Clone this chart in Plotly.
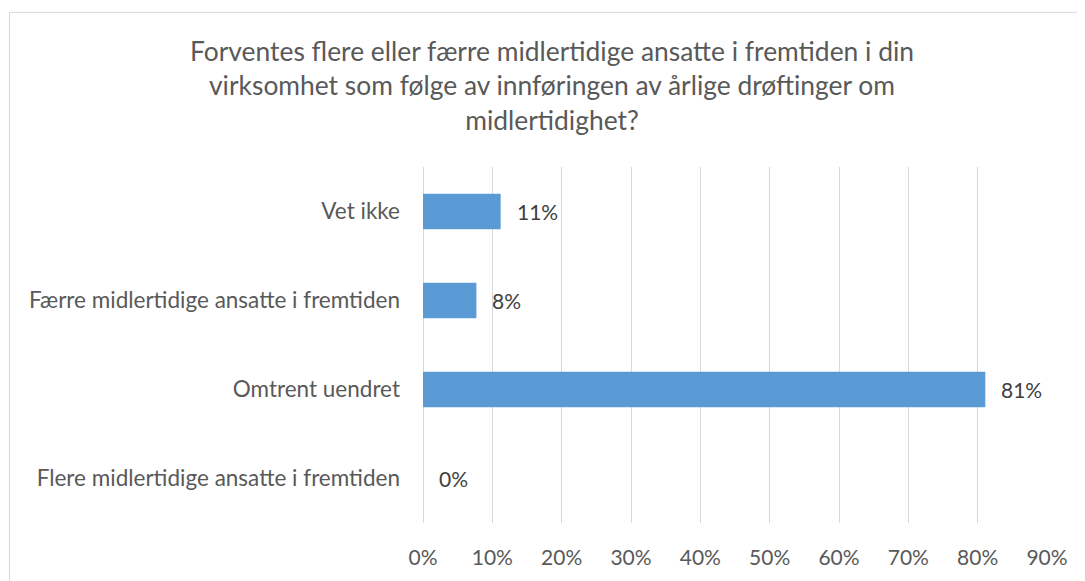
import plotly.graph_objects as go

categories = [
    "Flere midlertidige ansatte i fremtiden",
    "Omtrent uendret",
    "Færre midlertidige ansatte i fremtiden",
    "Vet ikke",
]
values = [0.0, 81.1, 7.7, 11.2]
labels = ["0%", "81%", "8%", "11%"]
tick_vals = [0, 10, 20, 30, 40, 50, 60, 70, 80, 90]
tick_text = ["0%", "10%", "20%", "30%", "40%", "50%", "60%", "70%", "80%", "90%"]
title_text = ("Forventes flere eller færre midlertidige ansatte i fremtiden i din<br>"
              "virksomhet som følge av innføringen av årlige drøftinger om<br>"
              "midlertidighet?")

FONT = "Lato"
# page body has an 8px margin, so the figure is offset by 8px
W, H = 1077, 573
L, R, T, B = 415, 38, 159, 56
pw = W - L - R
ph = H - T - B

fig = go.Figure()
fig.add_trace(go.Bar(
    y=categories, x=values, orientation="h",
    marker=dict(color="#5B9BD5", line=dict(width=0)),
    hoverinfo="skip",
))

for c, v, t in zip(categories, values, labels):
    fig.add_annotation(x=v, y=c, xref="x", yref="y", text=t, showarrow=False,
                       xanchor="left", yanchor="middle", xshift=14,
                       font=dict(family=FONT, size=21, color="#404040"))

# chart border
fig.add_shape(type="rect", xref="paper", yref="paper",
              x0=(1.5 - L) / pw, x1=(W + 20 - L) / pw,
              y0=-(H + 20 - (T + ph)) / ph, y1=1 + (T - 3.5) / ph,
              line=dict(color="#D9D9D9", width=1), fillcolor="rgba(0,0,0,0)", layer="below")

fig.update_layout(
    width=W, height=H,
    margin=dict(l=L, r=R, t=T, b=B, pad=0),
    paper_bgcolor="white", plot_bgcolor="white",
    bargap=0.6,
    showlegend=False,
    title=dict(text=title_text, x=544 / W, xanchor="center", y=1 - 53 / H, yanchor="top",
               xref="container", yref="container",
               font=dict(family=FONT, size=26.4, color="#595959")),
    xaxis=dict(range=[0, 90], tickvals=tick_vals, ticktext=tick_text,
               showgrid=True, gridcolor="#D9D9D9", gridwidth=1,
               zeroline=True, zerolinecolor="#D9D9D9", zerolinewidth=1,
               showline=False, ticks="", ticklabelstandoff=20,
               tickfont=dict(family=FONT, size=21, color="#595959"), fixedrange=True),
    yaxis=dict(showgrid=False, zeroline=False, showline=False, ticks="",
               ticklabelstandoff=22,
               tickfont=dict(family=FONT, size=22.5, color="#595959"), fixedrange=True),
)

fig.write_html("out.html")
